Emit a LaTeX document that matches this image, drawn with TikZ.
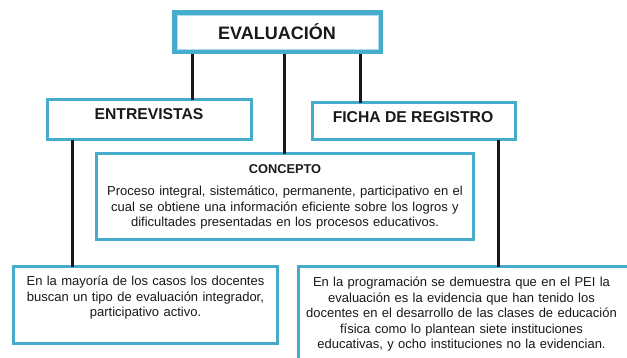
\documentclass[tikz,border=0pt]{standalone}
\usepackage{fontspec}
\setmainfont{Liberation Sans}
\definecolor{teal1}{RGB}{69,173,203}
\definecolor{pale}{RGB}{175,222,236}
\definecolor{ink}{RGB}{25,25,25}
\begin{document}
\begin{tikzpicture}[x=1pt,y=-1pt,
  box/.style={draw=teal1, line width=3pt, fill=white, rectangle, inner sep=0pt, outer sep=0pt},
  conn/.style={draw=ink, line width=3pt},
  title/.style={anchor=base, font=\bfseries\fontsize{15.7}{18}\selectfont, text=ink, inner sep=0pt},
  body/.style={anchor=base, align=center, text width=400pt, font=\fontsize{13}{15.5}\selectfont, text=ink, inner sep=0pt}]
\clip (0,0) rectangle (627,357);
\fill[white] (0,0) rectangle (627,357);
% boxes
\node[fill=teal1, rectangle, inner sep=0pt, outer sep=0pt, minimum width=211pt, minimum height=44pt] (eval) at (277.5,32) {};
\node[fill=white, draw=pale, line width=1pt, rectangle, inner sep=0pt, minimum width=201pt, minimum height=34pt] (evalin) at (277.5,32) {};
\node[box, minimum width=204pt, minimum height=40pt] (entrev) at (149.5,119.5) {};
\node[box, minimum width=203pt, minimum height=37pt] (ficha) at (414,121) {};
\node[box, minimum width=377pt, minimum height=86pt] (concepto) at (285,196.5) {};
\node[box, minimum width=264pt, minimum height=77pt] (bl) at (145.5,305) {};
\node[box, minimum width=341.5pt, minimum height=113.5pt] (br) at (469.25,323.25) {};
% connectors
\draw[conn] (192,0 |- eval.south) -- (192,0 |- entrev.north);
\draw[conn] (284,0 |- eval.south) -- (284,0 |- concepto.north);
\draw[conn] (360,0 |- eval.south) -- (360,0 |- ficha.north);
\draw[conn] (72,0 |- entrev.south) -- (72,0 |- bl.north);
\draw[conn] (498,0 |- ficha.south) -- (498,0 |- br.north);
% texts
\node[title, font=\bfseries\fontsize{18}{21}\selectfont] (tEval) at (277,39.3) {EVALUACIÓN};
\node[title] (tEntrev) at (149,119.5) {ENTREVISTAS};
\node[title] (tFicha) at (413,122.7) {FICHA DE REGISTRO};
\node[title, font=\bfseries\fontsize{12.8}{15}\selectfont] (tConc) at (285,173.3) {CONCEPTO};
\node[body] (tConcBody) at (285,195.5) {Proceso integral, sistemático, permanente, participativo en el\\cual se obtiene una información eficiente sobre los logros y\\dificultades presentadas en los procesos educativos.};
\node[body] (tBL) at (145.5,285.5) {En la mayoría de los casos los docentes\\buscan un tipo de evaluación integrador,\\participativo activo.};
\node[body] (tBR) at (461.5,286.5) {En la programación se demuestra que en el PEI la\\evaluación es la evidencia que han tenido los\\docentes en el desarrollo de las clases de educación\\física como lo plantean siete instituciones\\educativas, y ocho instituciones no la evidencian.};
\end{tikzpicture}
\end{document}
